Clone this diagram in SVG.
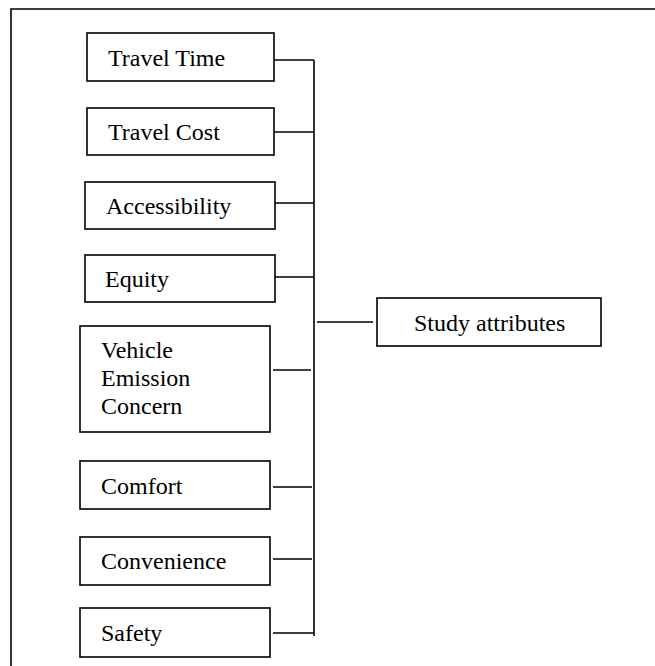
<svg xmlns="http://www.w3.org/2000/svg" width="655" height="666" viewBox="0 0 655 666">
<style>
.box{fill:#fff;stroke:#000;stroke-width:1.6}
.ln{stroke:#000;stroke-width:1.6;fill:none}
</style>
<rect width="655" height="666" fill="#fff"/>
<path class="ln" d="M11 666 V9 H655"/>
<g id="connectors">
<path class="ln" d="M314 60 V636"/>
<path class="ln" d="M274 60 H314"/>
<path class="ln" d="M274 132 H314"/>
<path class="ln" d="M275 203 H314"/>
<path class="ln" d="M275 277 H314"/>
<path class="ln" d="M273 370 H311"/>
<path class="ln" d="M273 487 H312"/>
<path class="ln" d="M273 559 H312"/>
<path class="ln" d="M273 633 H314"/>
<path class="ln" d="M317 322 H373"/>
</g>
<g id="travel-time"><rect class="box" x="87" y="33" width="187" height="48"/><text x="108" y="66" font-family="Liberation Serif" font-size="24">Travel Time</text></g>
<g id="travel-cost"><rect class="box" x="87" y="108" width="187" height="47"/><text x="108" y="140" font-family="Liberation Serif" font-size="24">Travel Cost</text></g>
<g id="accessibility"><rect class="box" x="85" y="182" width="190" height="47"/><text x="106" y="214" font-family="Liberation Serif" font-size="24">Accessibility</text></g>
<g id="equity"><rect class="box" x="85" y="255" width="190" height="47"/><text x="105" y="287" font-family="Liberation Serif" font-size="24">Equity</text></g>
<g id="vehicle-emission"><rect class="box" x="80" y="326" width="190" height="106"/><text x="101" y="358" font-family="Liberation Serif" font-size="24">Vehicle</text><text x="101" y="386" font-family="Liberation Serif" font-size="24">Emission</text><text x="101" y="414" font-family="Liberation Serif" font-size="24">Concern</text></g>
<g id="comfort"><rect class="box" x="80" y="461" width="190" height="48"/><text x="101" y="494" font-family="Liberation Serif" font-size="24">Comfort</text></g>
<g id="convenience"><rect class="box" x="80" y="537" width="190" height="48"/><text x="101" y="569" font-family="Liberation Serif" font-size="24">Convenience</text></g>
<g id="safety"><rect class="box" x="80" y="608" width="190" height="49"/><text x="101" y="641" font-family="Liberation Serif" font-size="24">Safety</text></g>
<g id="study-attributes"><rect class="box" x="377" y="298" width="224" height="48"/><text x="414" y="331" font-family="Liberation Serif" font-size="24">Study attributes</text></g>
</svg>
